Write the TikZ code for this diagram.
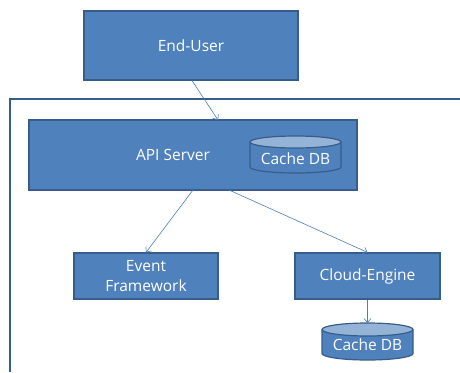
\documentclass[tikz,border=0pt]{standalone}
\usepackage{fontspec}
\setmainfont{Open Sans}
\usetikzlibrary{arrows.meta}
\definecolor{boxfill}{HTML}{4F81BD}
\definecolor{boxedge}{HTML}{385D8A}
\definecolor{lidfill}{HTML}{95B3D7}
\definecolor{linkcol}{HTML}{4A7EBB}
\tikzset{
  block/.style={draw=boxedge, fill=boxfill, line width=1.2pt, text=white,
    font=\fontsize{15.5}{20}\selectfont, align=center, inner sep=0pt},
  link/.style={draw=linkcol, line width=0.6pt, -{Straight Barb[length=4pt,width=7pt]}},
  dbtext/.style={text=white, font=\fontsize{15.5}{18}\selectfont, inner sep=0pt},
  dbshape/.style={draw=boxedge, line width=1.2pt},
}
% draw a database cylinder: centre x, top y, half width, lid radius, body height
\newcommand{\dbcyl}[5]{%
  \fill[boxfill] (#1-#3,#2+#4) -- (#1-#3,#2+#5-#4)
    arc[start angle=180,end angle=0,x radius=#3,y radius=#4]
    -- (#1+#3,#2+#4) -- cycle;
  \draw[dbshape] (#1-#3,#2+#4) -- (#1-#3,#2+#5-#4)
    arc[start angle=180,end angle=0,x radius=#3,y radius=#4]
    -- (#1+#3,#2+#4);
  \draw[dbshape, fill=lidfill] (#1,#2+#4) ellipse[x radius=#3, y radius=#4];
}
\begin{document}
\begin{tikzpicture}[x=1pt,y=-1pt]
\useasboundingbox (0,0) rectangle (460,372);
% open frame around the server side
\draw[boxedge, line width=1.2pt] (10,372) -- (10,99) -- (460,99);
% boxes
\node[block, minimum width=214pt, minimum height=69pt] (user) at (191,45.5) {End-User};
\node[block, minimum width=328pt, minimum height=70pt] (api) at (193,155) {};
\node[text=white, font=\fontsize{15.5}{18}\selectfont, inner sep=0pt] (apitext) at (173,155) {API Server};
\node[block, minimum width=144pt, minimum height=46pt] (event) at (146,276) {Event\\Framework};
\node[block, minimum width=145pt, minimum height=46pt] (cloud) at (367.5,276) {Cloud-Engine};
% cache inside the API server
\dbcyl{295.5}{136}{45.5}{6}{37}
\node[dbtext] (cacheA) at (295.5,159) {Cache DB};
% cache below the cloud engine
\dbcyl{367.5}{323}{45.5}{6.5}{37}
\coordinate (cacheBtop) at (367.5,323);
\node[dbtext] (cacheB) at (367.5,345) {Cache DB};
% connectors
\draw[link] (user.south) ++(1,0) coordinate (u1) -- (218,120) coordinate (a1);
\draw[link] (193,190) coordinate (a2) -- (event.north);
\draw[link] (229,190) coordinate (a3) -- (cloud.north);
\draw[link] (cloud.south) -- (cacheBtop);
\end{tikzpicture}
\end{document}
